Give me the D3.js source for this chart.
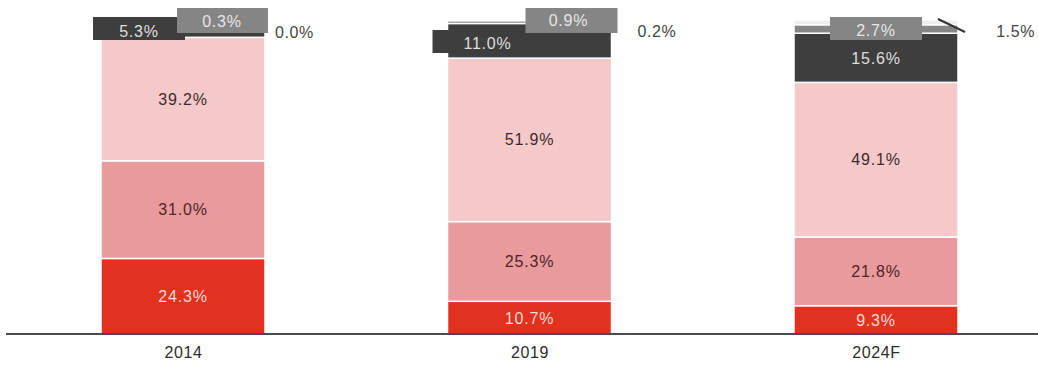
<!DOCTYPE html>
<html>
<head>
<meta charset="utf-8">
<script src="https://cdn.jsdelivr.net/npm/d3@7"></script>
<style>
  html, body { margin: 0; padding: 0; background: #fff; }
  svg { display: block; font-family: "Liberation Sans", Arial, sans-serif; }
</style>
</head>
<body>
<svg id="chart" width="1038" height="369"></svg>
<script>
// Categories and share of each segment (percent), bottom to top
const categories = ["2014", "2019", "2024F"];
const seg1 = [24.3, 10.7, 9.3];   // red
const seg2 = [31.0, 25.3, 21.8];  // mid pink
const seg3 = [39.2, 51.9, 49.1];  // light pink
const seg4 = [5.3, 11.0, 15.6];   // dark grey
const seg5 = [0.3, 0.9, 2.7];     // grey
const seg6 = [0.0, 0.2, 1.5];     // very light grey
const labels = ["2014", "2019", "2024F"];

const seriesValues = [seg1, seg2, seg3, seg4, seg5, seg6];
const seriesKeys = ["s1", "s2", "s3", "s4", "s5", "s6"];

const fills = ["#e2321f", "#e99a9c", "#f5c8c9", "#3e3e3e", "#858585", "#eeeeee"];
const textFills = ["#fcd9d3", "#4e2626", "#3d2b2b", "#dedede", "#e6e6e6", "#444"];

const rows = categories.map((c, i) => {
  const r = { cat: c };
  seriesKeys.forEach((k, j) => { r[k] = seriesValues[j][i]; });
  return r;
});
const stacked = d3.stack().keys(seriesKeys)(rows);

const svg = d3.select("#chart");
const barW = 164;
const x = d3.scalePoint().domain(categories).range([183, 876]);
const y = d3.scaleLinear().domain([0, 100]).range([335, 20]);

// bar segments
const layers = svg.append("g").selectAll("g").data(stacked).join("g")
  .attr("fill", (d, i) => fills[i]);
layers.selectAll("rect").data(d => d).join("rect")
  .attr("x", d => x(d.data.cat) - barW / 2)
  .attr("width", barW)
  .attr("y", d => y(d[1]))
  .attr("height", d => Math.max(0, y(d[0]) - y(d[1])))
  .attr("stroke", "#fff")
  .attr("stroke-width", 1.5);

// labels inside the three large segments
const fontSize = 16;
function pct(v) { return v.toFixed(1) + "%"; }
[0, 1, 2].forEach(si => {
  svg.append("g").selectAll("text").data(stacked[si]).join("text")
    .attr("x", d => x(d.data.cat))
    .attr("y", d => (y(d[0]) + y(d[1])) / 2)
    .attr("dy", "0.35em")
    .attr("text-anchor", "middle")
    .attr("font-size", fontSize)
    .attr("letter-spacing", 0.8)
    .attr("fill", textFills[si])
    .text(d => pct(d.data[seriesKeys[si]]));
});

// callout boxes for the small top segments, offsets from the bar centre
const boxes = [
  { s: 3, c: 0, dx0: -90, dx1: 2, y0: 17, y1: 40, tx: -44, ty: 31 },
  { s: 3, c: 1, dx0: -97, dx1: 79, y0: 30, y1: 53, tx: -42, ty: 43 },
  { s: 4, c: 0, dx0: -6, dx1: 85, y0: 8, y1: 33, tx: 39, ty: 21 },
  { s: 4, c: 1, dx0: -4, dx1: 88, y0: 8, y1: 33, tx: 39, ty: 20 },
  { s: 4, c: 2, dx0: -46, dx1: 46, y0: 17, y1: 40, tx: 0, ty: 30 }
];
const g = svg.append("g");
boxes.forEach(b => {
  const cx = x(categories[b.c]);
  g.append("rect")
    .attr("x", cx + b.dx0).attr("width", b.dx1 - b.dx0)
    .attr("y", b.y0).attr("height", b.y1 - b.y0)
    .attr("fill", fills[b.s]);
  g.append("text")
    .attr("x", cx + b.tx).attr("y", b.ty).attr("dy", "0.35em")
    .attr("text-anchor", "middle")
    .attr("font-size", fontSize).attr("letter-spacing", 0.8)
    .attr("fill", textFills[b.s])
    .text(pct(seriesValues[b.s][b.c]));
});

// 2024F dark segment label sits inside its segment
{
  const d = stacked[3][2];
  svg.append("text")
    .attr("x", x(d.data.cat)).attr("y", (y(d[0]) + y(d[1])) / 2 + 1).attr("dy", "0.35em")
    .attr("text-anchor", "middle")
    .attr("font-size", fontSize).attr("letter-spacing", 0.8)
    .attr("fill", textFills[3])
    .text(pct(d.data.s4));
}

// outside labels for the topmost series
const outside = [
  { c: 0, dx: 92, ty: 32, anchor: "start" },
  { c: 1, dx: 108, ty: 31, anchor: "start" },
  { c: 2, dx: 159, ty: 31, anchor: "end" }
];
outside.forEach(o => {
  svg.append("text")
    .attr("x", x(categories[o.c]) + o.dx).attr("y", o.ty).attr("dy", "0.35em")
    .attr("text-anchor", o.anchor)
    .attr("font-size", fontSize).attr("letter-spacing", 0.6)
    .attr("fill", "#444")
    .text(pct(seg6[o.c]));
});
// leader line for the 2024F top segment
svg.append("line")
  .attr("x1", x("2024F") + 62).attr("y1", 19)
  .attr("x2", x("2024F") + 89).attr("y2", 32)
  .attr("stroke", "#333").attr("stroke-width", 2);

// baseline axis with category labels
const axis = svg.append("g").attr("transform", "translate(0,334)")
  .call(d3.axisBottom(x).tickSize(0).tickPadding(13).tickFormat((d, i) => labels[i]));
axis.select(".domain").remove();
axis.selectAll("text")
  .attr("font-size", 16).attr("letter-spacing", 0.6)
  .attr("fill", "#2b2b2b")
  .style("font-family", "'Liberation Sans', Arial, sans-serif");
svg.append("line")
  .attr("x1", 6).attr("x2", 1038).attr("y1", 334).attr("y2", 334)
  .attr("stroke", "#4a4a4a").attr("stroke-width", 2);
</script>
</body>
</html>
